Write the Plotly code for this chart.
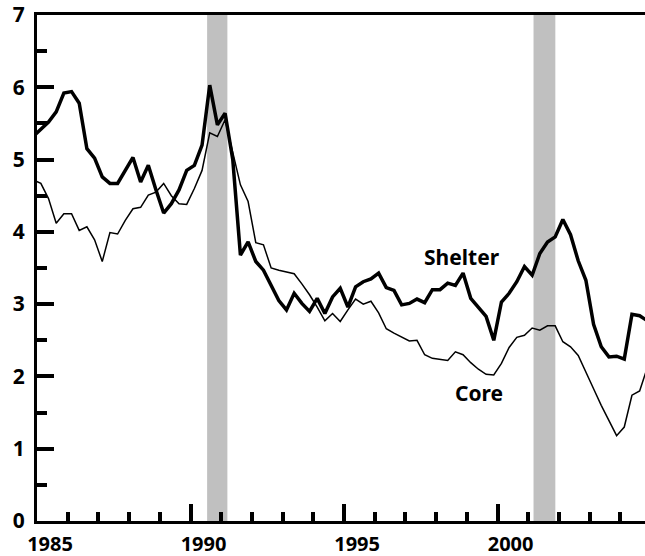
import plotly.graph_objects as go

# quarterly 12-month inflation, percent (mid-quarter points, 1984Q4 .. 2004Q4)
shelter = [5.32, 5.42, 5.52, 5.66, 5.92, 5.94, 5.78, 5.15, 5.02,
           4.76, 4.67, 4.67, 4.85, 5.03, 4.69, 4.92, 4.58,
           4.26, 4.39, 4.58, 4.85, 4.92, 5.20, 6.03, 5.48,
           5.64, 5.00, 3.68, 3.86, 3.59, 3.47, 3.26, 3.05,
           2.92, 3.15, 3.01, 2.90, 3.08, 2.87, 3.10, 3.22,
           2.96, 3.24, 3.31, 3.35, 3.43, 3.23, 3.19, 2.99,
           3.01, 3.07, 3.02, 3.20, 3.20, 3.29, 3.26, 3.43,
           3.08, 2.95, 2.83, 2.50, 3.03, 3.15, 3.31, 3.52,
           3.40, 3.70, 3.86, 3.93, 4.17, 3.96, 3.60, 3.33,
           2.72, 2.41, 2.27, 2.28, 2.24, 2.86, 2.84, 2.77]

core = [4.72, 4.67, 4.46, 4.12, 4.25, 4.25, 4.02, 4.07, 3.89,
        3.59, 3.99, 3.97, 4.16, 4.32, 4.34, 4.51, 4.55,
        4.67, 4.50, 4.39, 4.38, 4.60, 4.85, 5.37, 5.32,
        5.55, 5.10, 4.65, 4.42, 3.85, 3.82, 3.50, 3.47,
        3.45, 3.42, 3.28, 3.13, 2.96, 2.77, 2.87, 2.76,
        2.92, 3.07, 3.00, 3.04, 2.88, 2.66, 2.60, 2.54,
        2.49, 2.50, 2.30, 2.25, 2.24, 2.22, 2.34, 2.30,
        2.19, 2.10, 2.03, 2.02, 2.18, 2.40, 2.54, 2.57,
        2.67, 2.64, 2.70, 2.70, 2.48, 2.41, 2.29, 2.05,
        1.83, 1.60, 1.38, 1.18, 1.30, 1.74, 1.80, 2.12]

quarters = [1984.875 + 0.25 * i for i in range(len(shelter))]

recessions = [(1990.54, 1991.2), (2001.17, 2001.88)]
year_ticks = [1985, 1990, 1995, 2000]
y_ticks = [0, 1, 2, 3, 4, 5, 6, 7]

FONT = "Noto Sans"

fig = go.Figure()

for start, end in recessions:
    fig.add_shape(type="rect", xref="x", yref="y", x0=start, x1=end, y0=0, y1=7,
                  fillcolor="#c0c0c0", line=dict(width=0), layer="below")

fig.add_trace(go.Scatter(x=quarters, y=core, mode="lines",
                         line=dict(color="black", width=1.5), name="Core"))
fig.add_trace(go.Scatter(x=quarters, y=shelter, mode="lines",
                         line=dict(color="black", width=3.5), name="Shelter"))

fig.add_annotation(x=1998.83, y=3.65, text="Shelter", showarrow=False,
                   font=dict(family=FONT, size=21, color="black", weight="bold"))
fig.add_annotation(x=1999.38, y=1.77, text="Core", showarrow=False,
                   font=dict(family=FONT, size=21, color="black", weight="bold"))

fig.update_xaxes(
    range=[1985, 2004.8], showgrid=False, zeroline=False, automargin=False,
    showline=True, linecolor="black", linewidth=3, mirror=True,
    tickmode="array", tickvals=year_ticks, ticktext=[str(t) for t in year_ticks],
    ticks="inside", ticklen=17, tickwidth=3.5, tickcolor="black",
    minor=dict(ticks="inside", dtick=1, tick0=1985, ticklen=9, tickwidth=3.5, tickcolor="black"),
    ticklabelshift=13, ticklabelstandoff=3,
    tickfont=dict(family=FONT, size=20, color="black", weight="bold"),
)
fig.update_yaxes(
    range=[0, 7], showgrid=False, zeroline=False, automargin=False,
    showline=True, linecolor="black", linewidth=3,
    tickmode="array", tickvals=y_ticks,
    ticks="inside", ticklen=17, tickwidth=3.5, tickcolor="black",
    minor=dict(ticks="inside", dtick=0.5, tick0=0, ticklen=10, tickwidth=3.5, tickcolor="black"),
    ticklabelstandoff=5,
    tickfont=dict(family=FONT, size=21, color="black", weight="bold"),
)

fig.update_layout(
    width=645, height=556,
    margin=dict(l=37, r=0, t=15, b=35),
    paper_bgcolor="white", plot_bgcolor="white",
    showlegend=False,
)

# drop the default page margin so the figure fills the window exactly
fig.write_html("out.html", config={"displayModeBar": False},
               post_script="document.body.style.margin='0';"
                           "document.body.style.overflow='hidden';")
